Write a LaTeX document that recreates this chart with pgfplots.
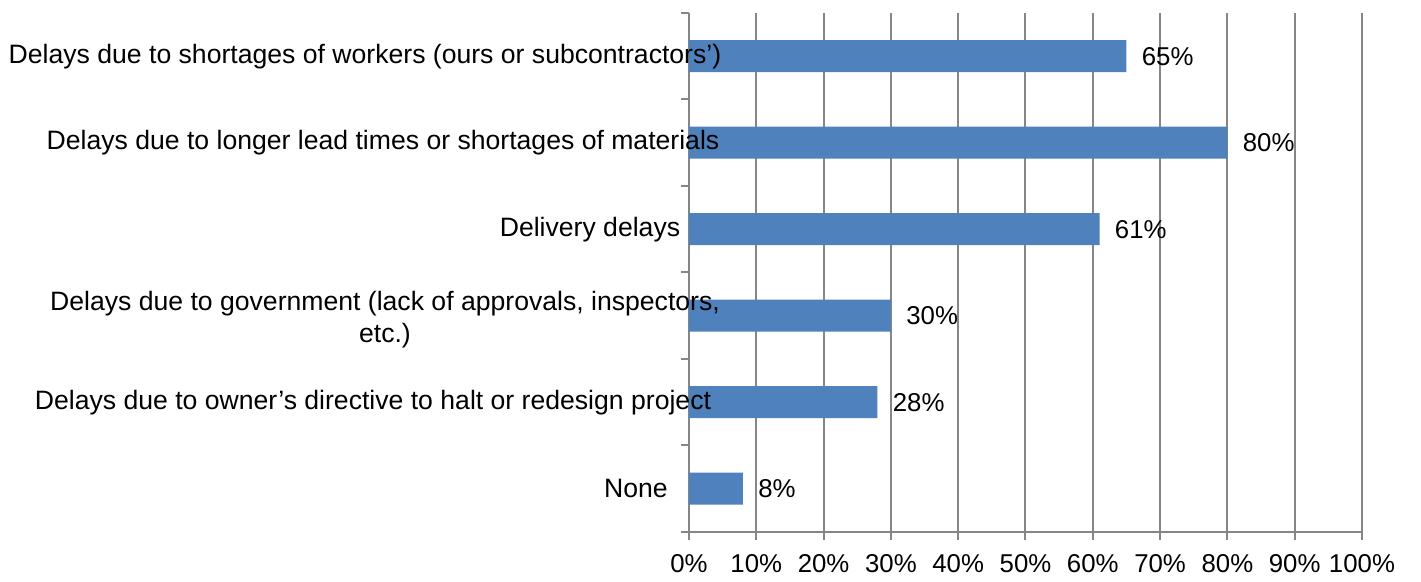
\documentclass[border=0pt]{standalone}
\usepackage{pgfplots}
\pgfplotsset{compat=1.18}
\usepackage{fontspec}
\setmainfont{Liberation Sans}
\definecolor{gridgray}{RGB}{134,134,134}
\definecolor{barblue}{RGB}{79,129,189}
\begin{document}
\begin{tikzpicture}
\begin{axis}[
  scale only axis, width=336.5pt, height=259.5pt,
  at={(0,0)}, anchor=south west,
  xmin=0, xmax=100, ymin=-0.5, ymax=5.5,
  axis x line*=bottom, axis y line*=left,
  axis line style={draw=gridgray, line width=1pt, -},
  xtick={0,10,20,30,40,50,60,70,80,90,100},
  xticklabels={0\%,10\%,20\%,30\%,40\%,50\%,60\%,70\%,80\%,90\%,100\%},
  ytick={-0.5,0.5,1.5,2.5,3.5,4.5,5.5}, yticklabels={},
  tick align=outside, major tick length=4pt,
  tick style={draw=gridgray, line width=1pt},
  xmajorgrids, grid style={draw=gridgray, line width=1pt},
  xticklabel shift=3.5pt,
  ticklabel style={font=\fontsize{12.9pt}{15pt}\selectfont},
  /pgf/number format/assume math mode=true,
  xbar, bar width=16pt,
  point meta=x,
  nodes near coords={\pgfmathprintnumber{\pgfplotspointmeta}\%},
  nodes near coords style={anchor=west, xshift=4.2pt, font=\fontsize{12.9pt}{15pt}\selectfont, text=black},
  clip=false,
]
\addplot[fill=barblue, draw=none] coordinates {
  (8,0) (28,1) (30,2) (61,3) (80,4) (65,5)
};
\node[align=center, font=\fontsize{13.3pt}{16pt}\selectfont] at (axis cs:0,5) [xshift=-162pt] {Delays due to shortages of workers (ours or subcontractors’)};
\node[align=center, font=\fontsize{13.3pt}{16pt}\selectfont] at (axis cs:0,4) [xshift=-153pt] {Delays due to longer lead times or shortages of materials};
\node[align=center, font=\fontsize{13.3pt}{16pt}\selectfont] at (axis cs:0,3) [xshift=-49.5pt] {Delivery delays};
\node[align=center, font=\fontsize{13.3pt}{16pt}\selectfont] at (axis cs:0,2) [xshift=-152pt, yshift=-2pt] {Delays due to government (lack of approvals, inspectors,\\etc.)};
\node[align=center, font=\fontsize{13.3pt}{16pt}\selectfont] at (axis cs:0,1) [xshift=-158pt] {Delays due to owner’s directive to halt or redesign project};
\node[align=center, font=\fontsize{13.3pt}{16pt}\selectfont] at (axis cs:0,0) [xshift=-26.5pt] {None};
\end{axis}
\pgfresetboundingbox
\path[use as bounding box] (-344.5pt,-25pt) rectangle (366pt,266pt);
\end{tikzpicture}
\end{document}
